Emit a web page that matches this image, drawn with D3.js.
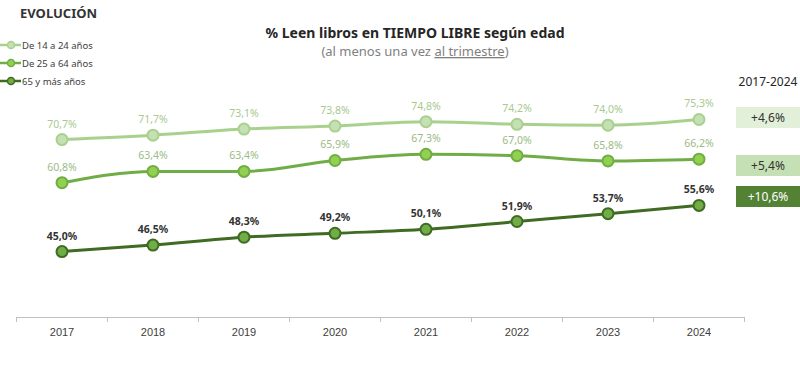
<!DOCTYPE html>
<html>
<head>
<meta charset="utf-8">
<script src="https://cdn.jsdelivr.net/npm/d3@7"></script>
<style>
  body { margin: 0; background: #fff; }
  svg { font-family: "Noto Sans", "Open Sans", sans-serif; }
</style>
</head>
<body>
<div id="chart"></div>
<script>
// data
const years = ["2017", "2018", "2019", "2020", "2021", "2022", "2023", "2024"];
const seriesNames = ["De 14 a 24 años", "De 25 a 64 años", "65 y más años"];
const young = [70.7, 71.7, 73.1, 73.8, 74.8, 74.2, 74.0, 75.3];
const adult = [60.8, 63.4, 63.4, 65.9, 67.3, 67.0, 65.8, 66.2];
const senior = [45.0, 46.5, 48.3, 49.2, 50.1, 51.9, 53.7, 55.6];
const changeLabels = ["+4,6%", "+5,4%", "+10,6%"];

const width = 800, height = 380;
const svg = d3.select("#chart").append("svg")
    .attr("width", width)
    .attr("height", height);

// look for each series: line, marker fill, label colour
const styles = [
    {line: "#a9d18e", fill: "#c5e0b4", label: "#a9c98f", weight: "normal", box: "#e2f0d9", boxText: "#333"},
    {line: "#70ad47", fill: "#92d050", label: "#9bbb87", weight: "normal", box: "#c5e0b4", boxText: "#333"},
    {line: "#3f6b23", fill: "#70ad47", label: "#333333", weight: "bold", box: "#548235", boxText: "#fff"}
];
const allSeries = [young, adult, senior];

let xScale = d3.scaleBand().domain(years).range([16.5, 744.5]);
let yScale = d3.scaleLinear().domain([30, 80]).range([317, 99]);
const cx = d => xScale(d) + xScale.bandwidth() / 2;

// x axis
let axis = svg.append("g")
    .attr("transform", "translate(0,317)")
    .call(d3.axisBottom(xScale).tickSize(0).tickPadding(11));
axis.select(".domain").attr("stroke", "#bfbfbf");
axis.selectAll("text").attr("font-size", 11).attr("fill", "#404040");
// tick marks on band edges
axis.selectAll(".edge")
    .data(years.concat(["end"]))
    .enter().append("line")
    .attr("x1", (d, i) => 16.5 + i * xScale.bandwidth())
    .attr("x2", (d, i) => 16.5 + i * xScale.bandwidth())
    .attr("y1", 0).attr("y2", 5)
    .attr("stroke", "#bfbfbf");

// headings
svg.append("text").attr("x", 20).attr("y", 18)
    .attr("font-size", 13).attr("font-weight", "bold").attr("fill", "#333")
    .text("EVOLUCIÓN");

svg.append("text").attr("x", 415).attr("y", 38)
    .attr("text-anchor", "middle").attr("font-size", 14).attr("font-weight", "bold").attr("fill", "#262626")
    .text("% Leen libros en TIEMPO LIBRE según edad");

let sub = svg.append("text").attr("x", 415).attr("y", 56)
    .attr("text-anchor", "middle").attr("font-size", 13).attr("fill", "#7f7f7f");
sub.append("tspan").text("(al menos una vez ");
sub.append("tspan").attr("text-decoration", "underline").text("al trimestre");
sub.append("tspan").text(")");

// lines
let line = d3.line()
    .x((d, i) => cx(years[i]))
    .y(d => yScale(d))
    .curve(d3.curveMonotoneX);

allSeries.forEach(function(values, s) {
    let st = styles[s];
    svg.append("path")
        .datum(values)
        .attr("fill", "none")
        .attr("stroke", st.line)
        .attr("stroke-width", 3)
        .attr("d", line);

    svg.selectAll(".pt" + s)
        .data(values)
        .enter().append("circle")
        .attr("class", "pt" + s)
        .attr("cx", (d, i) => cx(years[i]))
        .attr("cy", d => yScale(d))
        .attr("r", 5.5)
        .attr("fill", st.fill)
        .attr("stroke", st.line)
        .attr("stroke-width", 2);

    svg.selectAll(".lb" + s)
        .data(values)
        .enter().append("text")
        .attr("class", "lb" + s)
        .attr("x", (d, i) => cx(years[i]))
        .attr("y", d => yScale(d) - 12)
        .attr("text-anchor", "middle")
        .attr("font-size", 10.5)
        .attr("font-weight", st.weight)
        .attr("fill", st.label)
        .text(d => d.toFixed(1).replace(".", ",") + "%");
});

// legend
seriesNames.forEach(function(name, i) {
    let y = 45 + i * 18;
    let st = styles[i];
    svg.append("line").attr("x1", 0).attr("x2", 21).attr("y1", y).attr("y2", y)
        .attr("stroke", st.line).attr("stroke-width", 2.5);
    svg.append("circle").attr("cx", 11).attr("cy", y).attr("r", 3.5)
        .attr("fill", st.fill).attr("stroke", st.line).attr("stroke-width", 1.5);
    svg.append("text").attr("x", 22).attr("y", y + 3.5)
        .attr("font-size", 9.5).attr("fill", "#404040").text(name);
});

// change boxes 2017-2024
svg.append("text").attr("x", 768).attr("y", 86)
    .attr("text-anchor", "middle").attr("font-size", 12).attr("fill", "#262626")
    .text("2017-2024");

const boxTops = [107, 155, 186];
changeLabels.forEach(function(lbl, i) {
    let st = styles[i];
    svg.append("rect").attr("x", 736).attr("y", boxTops[i])
        .attr("width", 64).attr("height", 21).attr("fill", st.box);
    svg.append("text").attr("x", 768).attr("y", boxTops[i] + 15)
        .attr("text-anchor", "middle").attr("font-size", 12).attr("fill", st.boxText)
        .text(lbl);
});
</script>
</body>
</html>
